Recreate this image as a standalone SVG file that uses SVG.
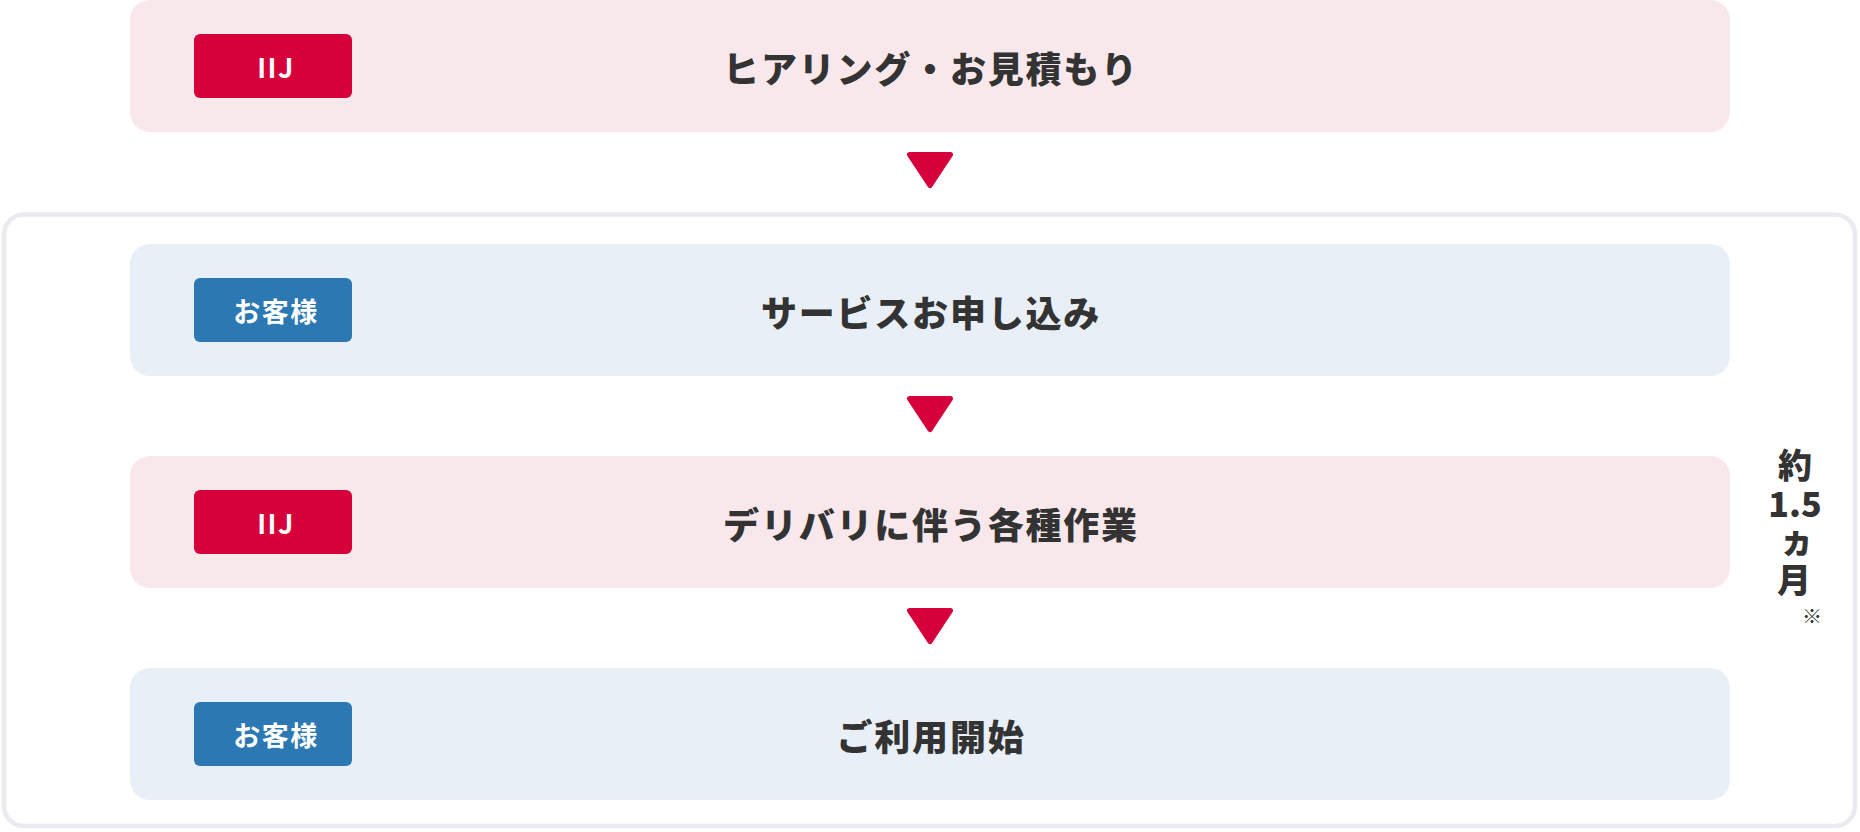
<svg xmlns="http://www.w3.org/2000/svg" width="1860" height="832" viewBox="0 0 1860 832">
  <style>
    .pink { fill: #f9e8eb; }
    .blue { fill: #e8eff6; }
    .badge-iij { fill: #d6003a; }
    .badge-cust { fill: #2b78b2; }
    .title { font-family: "Noto Sans CJK JP", "Noto Sans", sans-serif; font-weight: 900; font-size: 36px; fill: #333333; text-anchor: middle; letter-spacing: 1.8px; }
    .badge-text { font-family: "Noto Sans CJK JP", "Noto Sans", sans-serif; font-weight: 700; font-size: 27px; fill: #ffffff; text-anchor: middle; letter-spacing: 1.5px; }
    .side { font-family: "Noto Sans CJK JP", "Noto Sans", sans-serif; font-weight: 900; font-size: 34px; fill: #333333; text-anchor: middle; }
    .note { font-weight: 400; font-size: 20px; }
    .arrow { fill: #d6003a; stroke: #d6003a; stroke-width: 5; stroke-linejoin: round; }
  </style>

  <rect width="1860" height="832" fill="#ffffff"/>

  <g id="period-frame">
    <rect x="4" y="214.5" width="1851" height="611.5" rx="20" fill="none" stroke="#e9ebee" stroke-width="4.5"/>
    <text class="side"><tspan x="1795" y="478">約</tspan><tspan x="1795" y="517">1.5</tspan><tspan x="1797" y="553">ヵ</tspan><tspan x="1794" y="593">月</tspan><tspan class="note" x="1812" y="624">※</tspan></text>
  </g>

  <g id="step1">
    <rect class="pink" x="130" y="0" width="1600" height="132" rx="20"/>
    <rect class="badge-iij" x="194" y="34" width="158" height="64" rx="6"/>
    <text class="badge-text" x="276" y="78">IIJ</text>
    <text class="title" x="931" y="83">ヒアリング・お見積もり</text>
  </g>

  <g id="step2">
    <rect class="blue" x="130" y="244" width="1600" height="132" rx="20"/>
    <rect class="badge-cust" x="194" y="278" width="158" height="64" rx="6"/>
    <text class="badge-text" x="276" y="322">お客様</text>
    <text class="title" x="931" y="327">サービスお申し込み</text>
  </g>

  <g id="step3">
    <rect class="pink" x="130" y="456" width="1600" height="132" rx="20"/>
    <rect class="badge-iij" x="194" y="490" width="158" height="64" rx="6"/>
    <text class="badge-text" x="276" y="534">IIJ</text>
    <text class="title" x="931" y="539">デリバリに伴う各種作業</text>
  </g>

  <g id="step4">
    <rect class="blue" x="130" y="668" width="1600" height="132" rx="20"/>
    <rect class="badge-cust" x="194" y="702" width="158" height="64" rx="6"/>
    <text class="badge-text" x="276" y="746">お客様</text>
    <text class="title" x="931" y="751">ご利用開始</text>
  </g>

  <g id="connectors">
    <polygon class="arrow" points="909.5,154.5 950.5,154.5 930,185.5"/>
    <polygon class="arrow" points="909.5,398.5 950.5,398.5 930,429.5"/>
    <polygon class="arrow" points="909.5,610.5 950.5,610.5 930,641.5"/>
  </g>
</svg>
